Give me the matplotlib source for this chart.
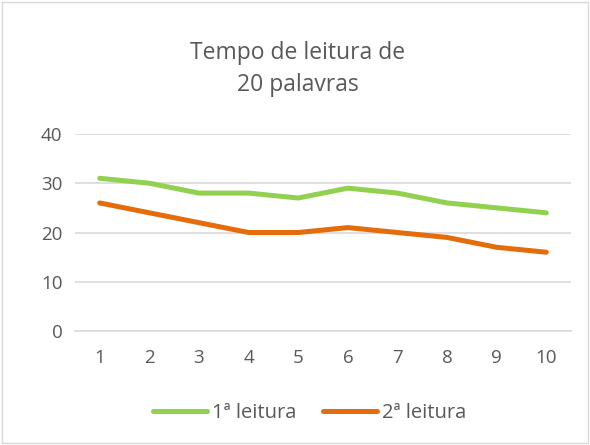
import matplotlib.pyplot as plt
from matplotlib.patches import Rectangle

plt.rcParams['font.family'] = ['Open Sans', 'DejaVu Sans']

leituras = [1, 2, 3, 4, 5, 6, 7, 8, 9, 10]
leitura1 = [31, 30, 28, 28, 27, 29, 28, 26, 25, 24]
leitura2 = [26, 24, 22, 20, 20, 21, 20, 19, 17, 16]
yticks = [0, 10, 20, 30, 40]

cor_texto = '#595959'

fig = plt.figure(figsize=(5.9, 4.45), dpi=100)
ax = fig.add_axes([0.127, 0.256, 0.841, 0.443])

ax.plot(leituras, leitura1, color='#92D050', linewidth=3.6, solid_capstyle='round', label='1ª leitura')
ax.plot(leituras, leitura2, color='#E46C0A', linewidth=3.6, solid_capstyle='round', label='2ª leitura')

ax.set_xlim(0.5, 10.5)
ax.set_ylim(0, 40)
ax.set_yticks(yticks)
ax.set_xticks(leituras)
ax.grid(axis='y', color='#D9D9D9', linewidth=1.2)
ax.set_axisbelow(True)
for s in ['top', 'right', 'left']:
    ax.spines[s].set_visible(False)
ax.spines['bottom'].set_color('#D9D9D9')
ax.spines['bottom'].set_linewidth(1.2)
ax.tick_params(axis='both', length=0, labelsize=13.5, colors=cor_texto)
ax.tick_params(axis='x', pad=13)
ax.tick_params(axis='y', pad=9)

fig.text(0.505, 0.845, 'Tempo de leitura de\n20 palavras', ha='center', va='center',
         fontsize=16.5, color=cor_texto, linespacing=1.45)

leg = fig.legend(loc='center', bbox_to_anchor=(0.525, 0.072), ncol=2, frameon=False,
                 fontsize=14.5, handlelength=2.7, handletextpad=0.25, columnspacing=1.3)
for t in leg.get_texts():
    t.set_color(cor_texto)

fig.patches.append(Rectangle((0.004, 0.004), 0.992, 0.992, transform=fig.transFigure,
                             fill=False, edgecolor='#D9D9D9', linewidth=1))

plt.savefig('out.png', dpi=100)
